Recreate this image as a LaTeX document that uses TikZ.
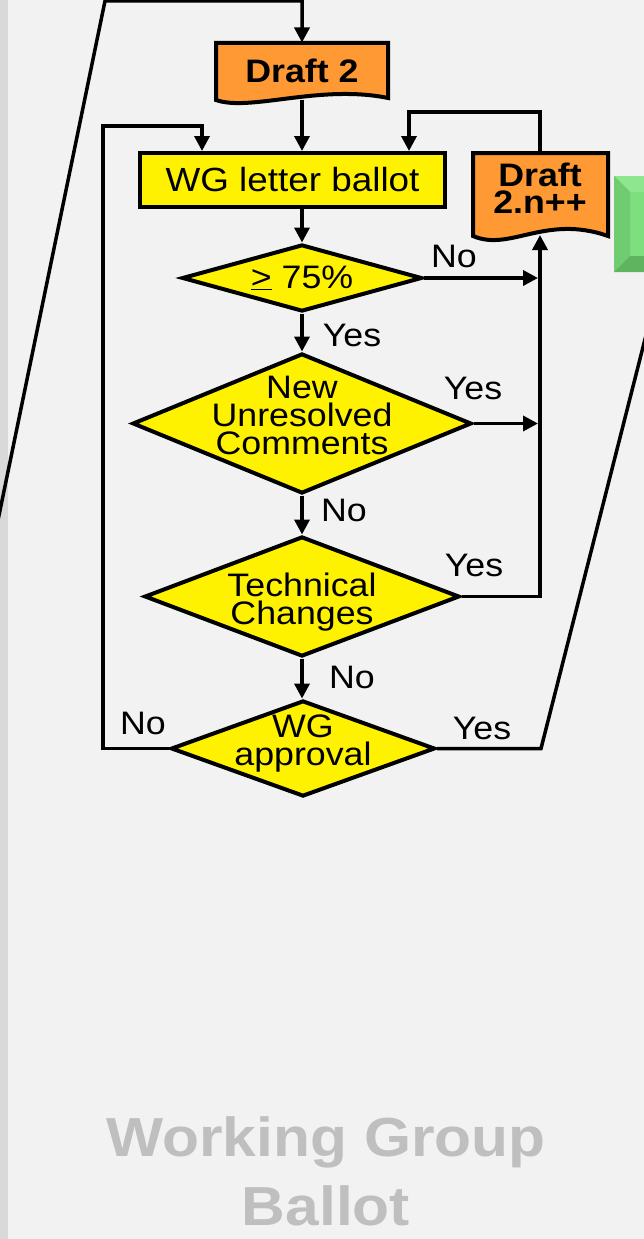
\documentclass[tikz,border=0pt]{standalone}
\usepackage{fontspec}
\setmainfont{Liberation Sans}[FakeStretch=1.1]
\usetikzlibrary{arrows.meta,shapes.geometric}

\definecolor{paper}{HTML}{F2F2F2}
\definecolor{strip}{HTML}{D9D9D9}
\definecolor{draftorange}{RGB}{255,153,51}
\definecolor{greenface}{RGB}{125,223,125}
\definecolor{greentop}{RGB}{142,231,142}
\definecolor{greenleft}{RGB}{112,204,112}
\definecolor{greenbottom}{RGB}{95,180,95}
\definecolor{titlegray}{HTML}{BFBFBF}

\begin{document}
\begin{tikzpicture}[x=1pt,y=-1pt,
		box/.style={draw, line width=4pt, fill=yellow, inner sep=0pt},
		decision/.style={shape=diamond, draw, line width=4pt, fill=yellow, inner sep=0pt},
		doc/.style={draw, line width=4pt, fill=draftorange},
		docnode/.style={inner sep=0pt, outer sep=0pt},
		txt/.style={font=\fontsize{32.5}{28}\selectfont, align=center, inner sep=0pt},
		boldtxt/.style={txt, font=\bfseries\fontsize{32.5}{27}\selectfont},
		title/.style={font=\bfseries\fontsize{55}{69}\selectfont, text=titlegray, anchor=base, inner sep=0pt},
		flow/.style={line width=3.5pt},
		arrow/.style={flow, -{Triangle[length=15pt,width=15pt]}}
	]
		\clip (0,0) rectangle (644,1239);
		\fill[paper] (0,0) rectangle (644,1239);
		\fill[strip] (0,0) rectangle (8,1239);

		% green button, cut by the right edge
		\fill[greenface] (614,176) rectangle (660,272);
		\fill[greentop] (614,176) -- (660,176) -- (660,192) -- (630,192) -- cycle;
		\fill[greenleft] (614,176) -- (630,192) -- (630,256) -- (614,272) -- cycle;
		\fill[greenbottom] (614,272) -- (630,256) -- (660,256) -- (660,272) -- cycle;

		% drafts
		\draw[doc] (216,43) -- (388,43) -- (388,98) .. controls (320,84) and (250,112) .. (216,100) -- cycle;
		\node[docnode, boldtxt, minimum width=172pt, minimum height=57pt] (draft2) at (302,71) {Draft 2};
		\draw[doc] (473,153) -- (608,153) -- (608,236) .. controls (545,214) and (510,252) .. (473,236) -- cycle;
		\node[docnode, minimum width=135pt, minimum height=82pt,
			label={[boldtxt, yshift=5.7pt]center:Draft\\2.n++}] (draft2n) at (540,194) {};

		\node[box, minimum width=305pt, minimum height=54pt, font=\fontsize{33.5}{28}\selectfont] (ballot) at (292.5,180) {WG letter ballot};

		% decisions
		\node[decision, minimum width=240pt, minimum height=67pt,
			label={[txt]center:\underline{>}~75\%}] (d75) at (302,278) {};
		\node[decision, minimum width=339pt, minimum height=140pt,
			label={[txt, yshift=7.6pt]center:New\\Unresolved\\Comments}] (dnew) at (302,423.5) {};
		\node[decision, minimum width=315pt, minimum height=120pt,
			label={[txt, yshift=-5.2pt]center:Technical\\Changes}] (dtech) at (302,596.5) {};
		\node[decision, minimum width=264pt, minimum height=96pt,
			label={[txt, yshift=4.9pt]center:WG\\approval}] (dappr) at (303,748.5) {};

		\node[txt] (no75) at (454,256) {No};
		\node[txt] (yes75) at (352,335) {Yes};
		\node[txt] (yesnew) at (473,388) {Yes};
		\node[txt] (nonew) at (344,510) {No};
		\node[txt] (yestech) at (474,565) {Yes};
		\node[txt] (notech) at (352,677) {No};
		\node[txt] (noappr) at (143,723) {No};
		\node[txt] (yesappr) at (482,728) {Yes};

		\coordinate (inleft) at (-3,525);
		\coordinate (outright) at (650,319.5);
		\coordinate (backin) at ([xshift=64pt]ballot.north west);
		\coordinate (redoin) at ([xshift=-38pt]ballot.north east);

		\draw[arrow] (inleft) -- (105,1) -| (draft2.north);
		\draw[arrow] (draft2.south) -- (draft2.south |- ballot.north);
		\draw[arrow] (d75.north |- ballot.south) -- (d75.north);
		\draw[arrow] (d75.south) -- (dnew.north);
		\draw[arrow] (dnew.south) -- (dtech.north);
		\draw[arrow] (dtech.south) -- (dtech.south |- dappr.north);
		\draw[arrow, shorten >=2pt] (d75.east) -- (d75.east -| draft2n.south);
		\draw[arrow, shorten >=2pt] (dnew.east) -- (dnew.east -| draft2n.south);
		\draw[arrow] (dtech.east) -| (draft2n.south);
		\draw[arrow] (draft2n.north) -- ++(0,-41) -| (redoin);
		\draw[arrow] (dappr.west) -| (103,126) -| (backin);
		\draw[flow] (dappr.east) -- (541,748.5) -- (outright);

		\node[title] (wg) at (326,1156) {Working Group};
		\node[title] (ballotword) at (326,1225) {Ballot};
	\end{tikzpicture}
\end{document}
